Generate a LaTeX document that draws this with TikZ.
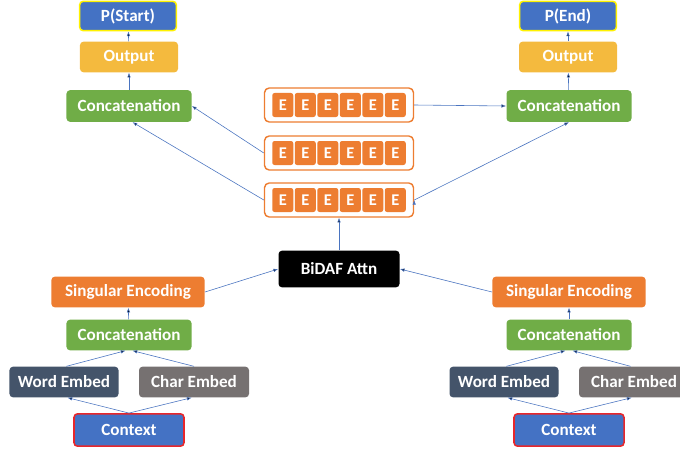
\documentclass[tikz,border=0pt]{standalone}
\usepackage{fontspec}
\setmainfont{Carlito}
\usetikzlibrary{arrows.meta}

\definecolor{cblue}{HTML}{4472C4}
\definecolor{cgold}{HTML}{F4BA3E}
\definecolor{cgreen}{HTML}{70AD47}
\definecolor{corange}{HTML}{ED7D31}
\definecolor{cslate}{HTML}{44546A}
\definecolor{cgray}{HTML}{767171}
\definecolor{cyellow}{HTML}{FFF200}
\definecolor{cred}{HTML}{E8262A}
\definecolor{cline}{HTML}{4A74C0}

\tikzstyle{s} = [rectangle, rounded corners=3pt, minimum height=0.92cm, text centered, text=white, draw=none, font=\bfseries\fontsize{14.6}{16}\selectfont]
\tikzstyle{erow} = [rectangle, rounded corners=4pt, minimum width=4.47cm, minimum height=1.02cm, draw=corange, line width=1.2pt, fill=white]
\tikzstyle{ebox} = [rectangle, rounded corners=2pt, minimum width=0.63cm, minimum height=0.72cm, inner sep=0pt, fill=corange, text=white, font=\bfseries\fontsize{14}{16}\selectfont]

\begin{document}
\begin{tikzpicture}[x=0.03cm,y=-0.03cm,->,>={Latex[length=4pt,width=3pt]},semithick]
\useasboundingbox (0,0) rectangle (680,450);

% left side
\node[s, fill=cblue, draw=cred, line width=1.3pt, minimum width=3.3cm, minimum height=0.97cm] (ContextL) at (129,430) {Context};
\node[s, fill=cslate, minimum width=3.27cm] (WordL) at (64,382) {Word Embed};
\node[s, fill=cgray, minimum width=3.3cm] (CharL) at (194,382) {Char Embed};
\node[s, fill=cgreen, minimum width=3.75cm] (ConcatL) at (129,335) {Concatenation};
\node[s, fill=corange, minimum width=4.6cm] (EncL) at (128,292) {Singular Encoding};

% right side
\node[s, fill=cblue, draw=cred, line width=1.3pt, minimum width=3.3cm, minimum height=0.97cm] (ContextR) at (569,430) {Context};
\node[s, fill=cslate, minimum width=3.27cm] (WordR) at (504,382) {Word Embed};
\node[s, fill=cgray, minimum width=3.3cm] (CharR) at (634,382) {Char Embed};
\node[s, fill=cgreen, minimum width=3.75cm] (ConcatR) at (569,335) {Concatenation};
\node[s, fill=corange, minimum width=4.6cm] (EncR) at (569,292) {Singular Encoding};

\node[s, fill=black, minimum width=3.63cm, minimum height=1.1cm] (Attn) at (339,269) {BiDAF Attn};

% E rows
\foreach \r/\y in {1/105,2/153,3/200} {
  \node[erow] (Row\r) at (339,\y) {};
  \foreach \i in {0,...,5}
    \node[ebox] (E\r\i) at (339-56.25+22.5*\i,\y) {E};
}

% top
\node[s, fill=cgreen, minimum width=3.75cm, minimum height=0.95cm] (OutConcatL) at (129,106) {Concatenation};
\node[s, fill=cgold, minimum width=2.94cm] (OutputL) at (129,57) {Output};
\node[s, fill=cblue, draw=cyellow, line width=1.3pt, minimum width=2.9cm, minimum height=0.88cm] (StartP) at (128,16) {P(Start)};

\node[s, fill=cgreen, minimum width=3.75cm, minimum height=0.95cm] (OutConcatR) at (569,106) {Concatenation};
\node[s, fill=cgold, minimum width=2.94cm] (OutputR) at (568,57) {Output};
\node[s, fill=cblue, draw=cyellow, line width=1.3pt, minimum width=2.9cm, minimum height=0.88cm] (EndP) at (568,16) {P(End)};

\path[draw=cline, line width=0.5pt]
  (ContextL.north) edge ([xshift=3pt]WordL.south)
  (ContextL.north) edge ([xshift=-2pt]CharL.south)
  ([xshift=2pt]WordL.north) edge ([xshift=-3pt]ConcatL.south)
  (CharL.north) edge ([xshift=3pt]ConcatL.south)
  (ConcatL) edge (EncL)
  (EncL.east) edge (Attn.west)
  (ContextR.north) edge ([xshift=3pt]WordR.south)
  (ContextR.north) edge ([xshift=-2pt]CharR.south)
  ([xshift=2pt]WordR.north) edge ([xshift=-3pt]ConcatR.south)
  ([xshift=-3pt]CharR.north) edge ([xshift=3pt]ConcatR.south)
  (ConcatR) edge (EncR)
  (EncR.west) edge (Attn.east)
  (Attn) edge (Row3)
  (Row3.west) edge ([xshift=3pt]OutConcatL.south)
  (Row2.west) edge (OutConcatL.east)
  (Row1.east) edge (OutConcatR.west)
  (Row3.east) edge (OutConcatR.south)
  (OutConcatL) edge (OutputL)
  (OutputL) edge (StartP)
  (OutConcatR) edge (OutputR)
  (OutputR) edge (EndP)
  ;

\end{tikzpicture}
\end{document}
